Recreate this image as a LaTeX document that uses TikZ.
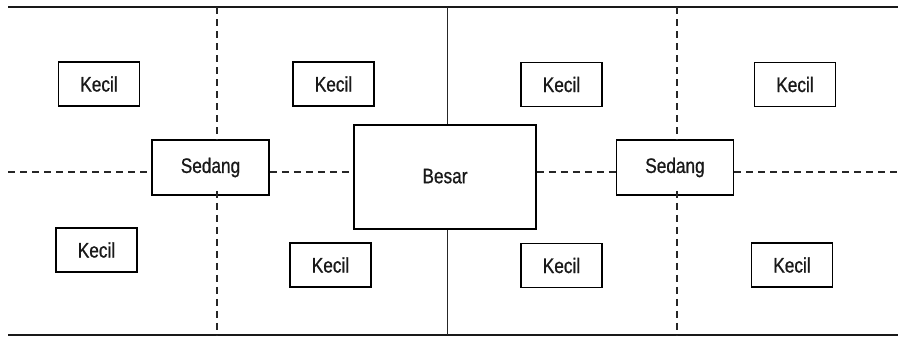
\documentclass[tikz,border=0pt]{standalone}
\usepackage{fontspec}
\setmainfont[FakeStretch=0.82,FakeBold=0.8]{Liberation Sans}
\begin{document}
\begin{tikzpicture}[x=1pt,y=-1pt,
  box/.style={draw=black, line width=1.5pt, fill=white, inner sep=0pt, text=black!90, font=\fontsize{21}{24}\selectfont},
  kecil/.style={box, minimum width=81pt, minimum height=44pt},
  sedang/.style={box, minimum width=117pt, minimum height=55pt},
  besar/.style={box, minimum width=182pt, minimum height=104pt},
  frame/.style={draw=black!90, line width=1.8pt},
  solidline/.style={draw=black!85, line width=1.4pt},
  dashline/.style={draw=black!85, line width=1.4pt, dash pattern=on 7pt off 5pt}]
\useasboundingbox[fill=white] (0,0) rectangle (898,351);

% frame
\coordinate (ftl) at (8,7);
\coordinate (ftr) at (898,7);
\coordinate (fbl) at (8,335);
\coordinate (fbr) at (898,335);
\draw[frame] (ftl) -- (ftr);
\draw[frame] (fbl) -- (fbr);

% main boxes
\node[besar] (B) at (445,177) {\raisebox{2pt}{Besar}};
\node[sedang] (SL) at (210.5,167.5) {Sedang};
\node[sedang] (SR) at (675,167.5) {Sedang};

% kecil boxes
\node[kecil] (K1) at (99,84) {Kecil};
\node[kecil] (K2) at (333.5,84) {Kecil};
\node[kecil] (K3) at (561.5,84.5) {Kecil};
\node[kecil] (K4) at (795,84.5) {Kecil};
\node[kecil] (K5) at (96.5,250) {Kecil};
\node[kecil] (K6) at (330.5,265) {Kecil};
\node[kecil] (K7) at (561.5,265.5) {Kecil};
\node[kecil] (K8) at (792,265) {Kecil};

% centre solid line
\coordinate (ct) at (447.5,7);
\coordinate (cb) at (447.5,335);
\draw[solidline] (ct) -- (ct |- B.north);
\draw[solidline] (cb |- B.south) -- (cb);

% horizontal dashed line
\coordinate (hl) at (8,172);
\coordinate (hr) at (898,172);
\draw[dashline] (hl) -- (hl -| SL.west);
\draw[dashline] (SL.east |- hl) -- (B.west |- hl);
\draw[dashline] (B.east |- hl) -- (SR.west |- hl);
\draw[dashline] (SR.east |- hl) -- (hr);

% vertical dashed lines
\coordinate (lt) at (217,7);
\coordinate (lb) at (217,335);
\draw[dashline] (lt) -- (lt |- SL.north);
\draw[dashline] ([yshift=5pt]lb |- SL.south) -- (lb);
\coordinate (rt) at (677,7);
\coordinate (rb) at (677,335);
\draw[dashline] (rt) -- (rt |- SR.north);
\draw[dashline] ([yshift=5pt]rb |- SR.south) -- (rb);
\end{tikzpicture}
\end{document}
